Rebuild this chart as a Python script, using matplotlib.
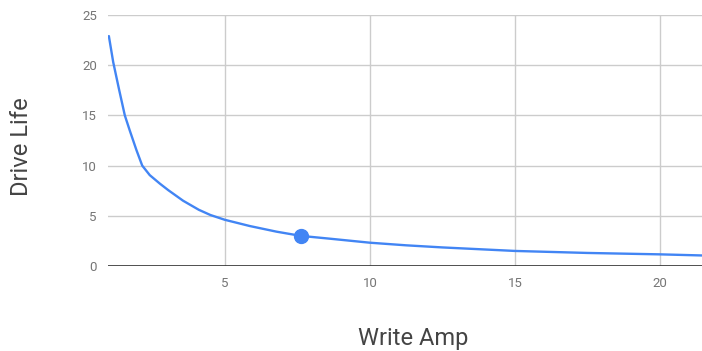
import matplotlib.pyplot as plt

# write amplification vs drive life
write_amp = [1.0, 1.15, 1.35, 1.55, 1.72, 1.95, 2.15, 2.41, 2.76, 3.05, 3.56, 4.1, 4.5, 5.0,
             5.86, 6.78, 7.62, 8.62, 10.0, 11.25, 12.5, 15.0, 17.5, 20.0, 21.45]
drive_life = [22.9, 20.3, 17.6, 15.0, 13.5, 11.55, 10.0, 9.05, 8.2, 7.55, 6.5, 5.6, 5.08, 4.6,
              3.98, 3.42, 3.0, 2.72, 2.32, 2.06, 1.85, 1.5, 1.3, 1.16, 1.05]

# highlighted point
point_x = [7.62]
point_y = [3.0]

x_ticks = [5, 10, 15, 20]
y_ticks = [0, 5, 10, 15, 20, 25]

plt.rcParams['font.family'] = ['Roboto', 'DejaVu Sans']

fig = plt.figure(figsize=(7.02, 3.51), dpi=100)
ax = fig.add_axes([108 / 702, 85 / 351, 594 / 702, 251 / 351])

ax.plot(write_amp, drive_life, color='#4285F4', linewidth=1.7,
        solid_capstyle='round', solid_joinstyle='round', zorder=3)
ax.plot(point_x, point_y, 'o', color='#4285F4', markersize=10, zorder=4)

ax.set_xlim(0.97, 21.45)
ax.set_ylim(0, 25)
ax.set_xticks(x_ticks)
ax.set_yticks(y_ticks)
ax.grid(True, color='#cccccc', linewidth=1)
ax.axhline(0, color='#333333', linewidth=1.2, zorder=2)
for s in ax.spines.values():
    s.set_visible(False)
ax.tick_params(length=0, labelsize=9.5, labelcolor='#757575', pad=8)

fig.text(22 / 702, 1 - 147 / 351, 'Drive Life', rotation=90, ha='center', va='center',
         fontsize=17, color='#444444')
fig.text(413 / 702, 1 - 338 / 351, 'Write Amp', ha='center', va='center',
         fontsize=17, color='#444444')

fig.savefig('out.png', dpi=100)
